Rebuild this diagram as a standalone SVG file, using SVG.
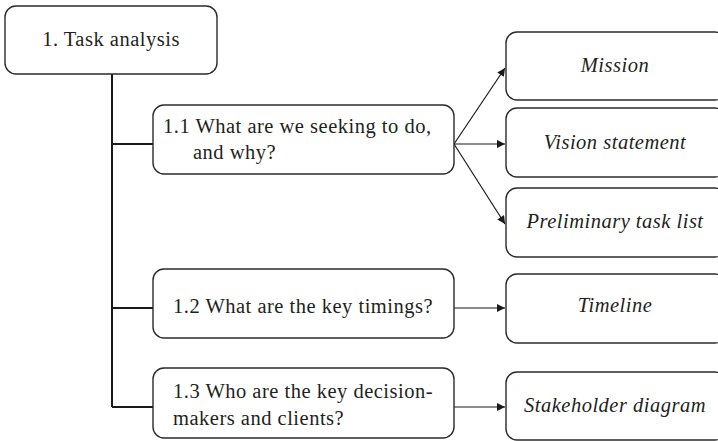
<svg xmlns="http://www.w3.org/2000/svg" width="718" height="441" viewBox="0 0 718 441">
  <style>
    .box { fill: #ffffff; stroke: #2b2b2b; stroke-width: 1.4; }
    .txt { font-family: "Liberation Serif", "DejaVu Serif", serif; font-size: 20.5px; letter-spacing: 0.5px; fill: #231f20; }
    .it { font-style: italic; text-anchor: middle; }
    .tree { fill: none; stroke: #1a1a1a; stroke-width: 2; }
    .arrow { fill: none; stroke: #1a1a1a; stroke-width: 1.2; marker-end: url(#head); }
  </style>
  <defs>
    <marker id="head" viewBox="0 0 10 10" refX="10" refY="5" markerWidth="10" markerHeight="8" markerUnits="userSpaceOnUse" orient="auto">
      <path d="M0,0 L10,5 L0,10 Z" fill="#1a1a1a"/>
    </marker>
  </defs>

  <!-- connectors -->
  <g id="connectors">
    <path class="tree" d="M112,74 V407 M112,144 H153 M112,308 H153 M112,407 H153"/>
    <line class="arrow" x1="454" y1="144" x2="505" y2="68"/>
    <line class="arrow" x1="454" y1="144" x2="505" y2="144"/>
    <line class="arrow" x1="454" y1="144" x2="505" y2="224"/>
    <line class="arrow" x1="454" y1="308" x2="505" y2="308"/>
    <line class="arrow" x1="454" y1="407" x2="505" y2="407"/>
  </g>

  <!-- root -->
  <g id="task-analysis">
    <rect class="box" x="5" y="6" width="212" height="68" rx="11"/>
    <text class="txt" x="111" y="46" text-anchor="middle">1. Task analysis</text>
  </g>

  <!-- questions -->
  <g id="q-1-1">
    <rect class="box" x="153" y="105" width="301" height="69" rx="11"/>
    <text class="txt" x="163" y="133">1.1 What are we seeking to do,</text>
    <text class="txt" x="193" y="159">and why?</text>
  </g>
  <g id="q-1-2">
    <rect class="box" x="153" y="269" width="301" height="69" rx="11"/>
    <text class="txt" x="173" y="313">1.2 What are the key timings?</text>
  </g>
  <g id="q-1-3">
    <rect class="box" x="153" y="368" width="301" height="70" rx="11"/>
    <text class="txt" x="173" y="398">1.3 Who are the key decision-</text>
    <text class="txt" x="173" y="425">makers and clients?</text>
  </g>

  <!-- outputs -->
  <g id="mission">
    <rect class="box" x="506" y="32" width="220" height="68" rx="11"/>
    <text class="txt it" x="615" y="72">Mission</text>
  </g>
  <g id="vision-statement">
    <rect class="box" x="506" y="108" width="220" height="69" rx="11"/>
    <text class="txt it" x="615" y="149">Vision statement</text>
  </g>
  <g id="preliminary-task-list">
    <rect class="box" x="506" y="188" width="220" height="69" rx="11"/>
    <text class="txt it" x="615" y="228">Preliminary task list</text>
  </g>
  <g id="timeline">
    <rect class="box" x="506" y="274" width="220" height="69" rx="11"/>
    <text class="txt it" x="615" y="312">Timeline</text>
  </g>
  <g id="stakeholder-diagram">
    <rect class="box" x="506" y="372" width="220" height="68" rx="11"/>
    <text class="txt it" x="615" y="412">Stakeholder diagram</text>
  </g>
</svg>
